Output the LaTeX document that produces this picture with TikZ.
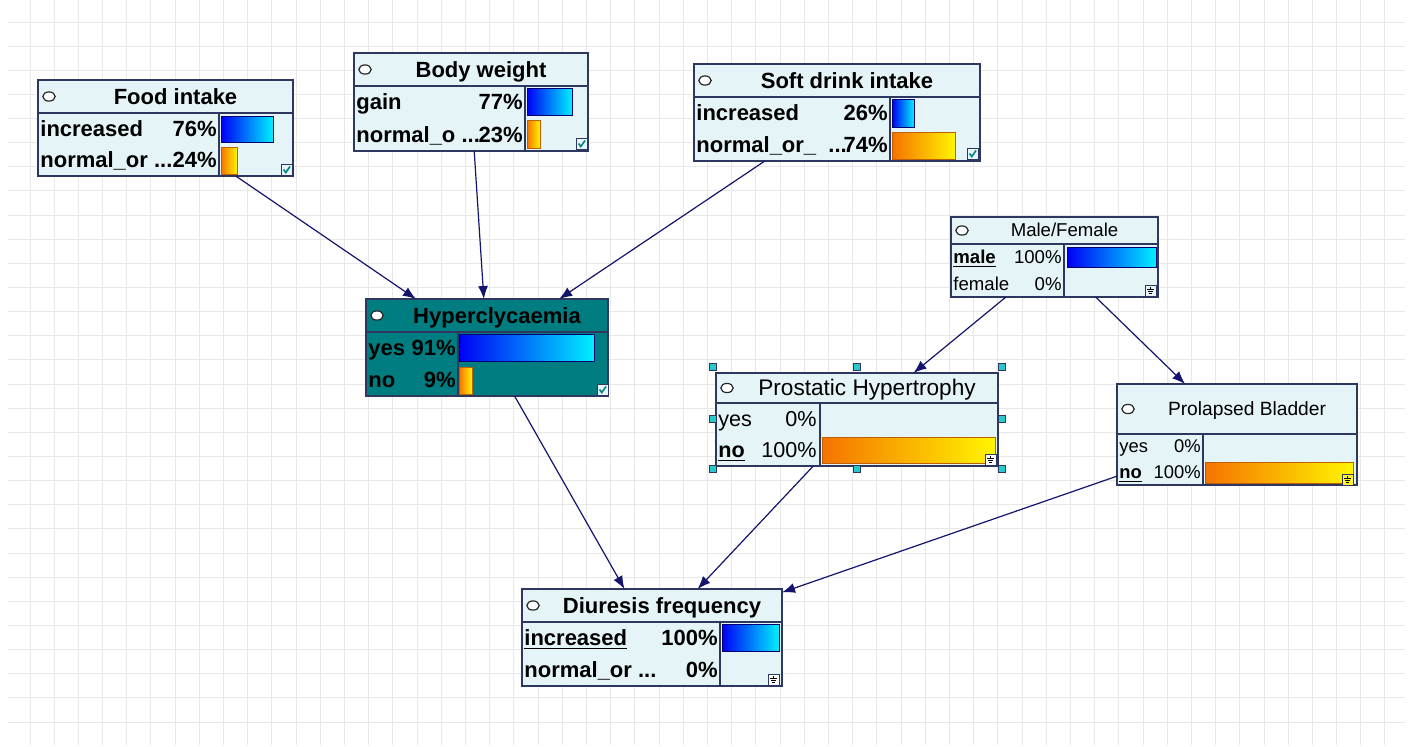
\documentclass[tikz,border=0pt]{standalone}
\usepackage{fontspec}
\setmainfont{Liberation Sans}
\usetikzlibrary{arrows.meta,calc}
\definecolor{bnborder}{RGB}{45,55,95}
\definecolor{bnfill}{RGB}{228,244,247}
\definecolor{bnteal}{RGB}{0,125,128}
\definecolor{bnarrow}{RGB}{20,20,110}
\definecolor{bngrid}{RGB}{232,232,232}
\definecolor{bnblueA}{RGB}{0,0,245}
\definecolor{bnblueB}{RGB}{0,240,255}
\definecolor{bnorA}{RGB}{245,115,0}
\definecolor{bnorB}{RGB}{255,245,0}
\definecolor{bnhandle}{RGB}{40,200,205}
\definecolor{bncheckc}{RGB}{0,130,130}
\newcommand\fB{\fontsize{11}{13}\selectfont\bfseries}
\newcommand\fM{\fontsize{9.3}{11}\selectfont}
\newcommand\fPt{\fontsize{11.3}{13}\selectfont}
\newcommand\fPr{\fontsize{10.8}{13}\selectfont}
\newcommand\fLt{\fontsize{9.6}{11}\selectfont}
\newcommand\fLr{\fontsize{9.2}{11}\selectfont}
\tikzset{
  bnbox/.style={draw=bnborder,line width=0.75pt,fill=bnfill,rectangle,inner sep=0pt,outer sep=0pt},
  bnline/.style={draw=bnborder,line width=0.75pt},
  bnoval/.style={draw=black!85,fill=white,line width=0.6pt},
  edge/.style={draw=bnarrow,line width=0.6pt,-{Latex[length=6.5pt,width=5pt]}},
  gridline/.style={draw=bngrid,line width=0.5pt},
  ttlB/.style={font=\fB,anchor=base,yshift=-3.75pt,inner sep=0pt},
  lblB/.style={font=\fB,anchor=base west,yshift=-3.75pt,inner sep=0pt},
  pctB/.style={font=\fB,anchor=base east,yshift=-3.75pt,inner sep=0pt},
  ttlM/.style={font=\fM,anchor=base,yshift=-3.2pt,inner sep=0pt},
  lblM/.style={font=\fM,anchor=base west,yshift=-3.2pt,inner sep=0pt},
  pctM/.style={font=\fM,anchor=base east,yshift=-3.2pt,inner sep=0pt},
  ttlP/.style={font=\fPt,anchor=base,yshift=-3.85pt,inner sep=0pt},
  lblP/.style={font=\fPr,anchor=base west,yshift=-3.67pt,inner sep=0pt},
  pctP/.style={font=\fPr,anchor=base east,yshift=-3.67pt,inner sep=0pt},
  ttlL/.style={font=\fLt,anchor=base,yshift=-3.25pt,inner sep=0pt},
  lblL/.style={font=\fLr,anchor=base west,yshift=-3.1pt,inner sep=0pt},
  pctL/.style={font=\fLr,anchor=base east,yshift=-3.1pt,inner sep=0pt},
  blubar/.style={left color=bnblueA,right color=bnblueB,draw=blue!45!black,line width=0.4pt},
  orabar/.style={left color=bnorA,right color=bnorB,draw=orange!75!black,line width=0.3pt},
  handle/.style={fill=bnhandle,draw=bnborder,line width=0.3pt},
  iconbox/.style={draw=bnborder,line width=0.4pt},
}
% #1 name, #2 L, #3 T, #4 R, #5 D (title bottom), #6 B, #7 X (inner divider), #8 extra style
\newcommand\bnframe[8]{%
  \node[bnbox,#8,minimum width={(#4-#2)*0.5pt},minimum height={(#6-#3)*0.5pt}] (#1) at ({(#2+#4)/2},{(#3+#6)/2}) {};
  \draw[bnline] (#2,#5) -- (#4,#5);
  \draw[bnline] (#7,#5) -- (#7,#6);
  \draw[bnoval] (#2+11,{(#3+#5)/2}) ellipse [x radius=3.1pt, y radius=2.3pt];
}
% #1 name, #2 L, #3 X, #4 y, #5 style suffix, #6 label, #7 pct
\newcommand\bnrow[7]{%
  \node[lbl#5] (#1) at (#2+2,#4) {#6};
  \node[pct#5] (#1p) at (#3-2,#4) {#7};
}
\newcommand\bncheck[2]{%
  \draw[iconbox,fill=bnfill] (#1,#2) rectangle (#1+11,#2+11);
  \draw[draw=bncheckc,line width=0.8pt] (#1+2.5,#2+5.5) -- (#1+4.8,#2+8.5) -- (#1+9,#2+2.5);
}
\newcommand\bnground[3]{%
  \draw[iconbox,fill=#3] (#1,#2) rectangle (#1+11,#2+11);
  \draw[line width=0.4pt] (#1+5.5,#2+2) -- (#1+5.5,#2+4.5)
    (#1+2,#2+4.5) -- (#1+9,#2+4.5) (#1+3,#2+6.5) -- (#1+8,#2+6.5) (#1+4,#2+8.5) -- (#1+7,#2+8.5);
}
\begin{document}
\begin{tikzpicture}[x=0.5pt,y=-0.5pt]
\useasboundingbox (0,0) rectangle (1412,746);
\fill[white] (0,0) rectangle (1412,746);
% grid
\foreach \k in {0,...,56} \draw[gridline] ({30+24.196*\k},0) -- ({30+24.196*\k},745);
\foreach \k in {0,...,29} \draw[gridline] (8,{22+24.14*\k}) -- (1405,{22+24.14*\k});

% Food intake
\bnframe{food}{38}{80}{293}{113}{176}{219}{}
\node[ttlB] (food-t) at (175.5,96.5) {Food intake};
\bnrow{food-a}{38}{219}{128.75}{B}{increased}{76\%}
\bnrow{food-b}{38}{219}{160.25}{B}{normal\_or ...}{24\%}
\draw[blubar] (221,116) rectangle (273,142);
\draw[orabar] (221,147) rectangle (237,174);
\bncheck{281}{164}

% Body weight
\bnframe{body}{354}{53}{588}{86}{151}{525}{}
\node[ttlB] (body-t) at (481,69.5) {Body weight};
\bnrow{body-a}{354}{525}{102.25}{B}{gain}{77\%}
\bnrow{body-b}{354}{525}{134.75}{B}{normal\_o ...}{23\%}
\draw[blubar] (527,88) rectangle (572,115);
\draw[orabar] (527,120) rectangle (540,148);
\bncheck{576}{138}

% Soft drink intake
\bnframe{soft}{694}{64}{980}{97}{161}{890}{}
\node[ttlB] (soft-t) at (847,80.5) {Soft drink intake};
\bnrow{soft-a}{694}{890}{113}{B}{increased}{26\%}
\bnrow{soft-b}{694}{890}{145}{B}{normal\_or\_ \ ...}{74\%}
\draw[blubar] (892,99) rectangle (914,127);
\draw[orabar] (892,132) rectangle (955,159);
\bncheck{967}{148}

% Hyperclycaemia
\bnframe{hyper}{366}{299}{608}{332}{396}{458}{fill=bnteal}
\node[ttlB] (hyper-t) at (497,315.5) {Hyperclycaemia};
\bnrow{hyper-a}{366}{458}{348}{B}{yes}{91\%}
\bnrow{hyper-b}{366}{458}{380}{B}{no}{9\%}
\draw[blubar] (459,334) rectangle (594,361);
\draw[orabar] (459,367) rectangle (472,394);
\bncheck{597}{384}

% Male/Female
\bnframe{male}{951}{217}{1158}{244}{297}{1064}{}
\node[ttlM] (male-t) at (1064.5,230.5) {Male/Female};
\bnrow{male-a}{951}{1064}{257.25}{M}{\textbf{\underline{male}}}{100\%}
\bnrow{male-b}{951}{1064}{283.75}{M}{female}{0\%}
\draw[blubar] (1067,247) rectangle (1156,267);
\bnground{1145}{285}{bnfill}

% Prostatic Hypertrophy
\bnframe{prost}{716}{373}{998}{403}{466}{820}{}
\node[ttlP] (prost-t) at (867,388) {Prostatic Hypertrophy};
\bnrow{prost-a}{716}{819}{418.75}{P}{yes}{0\%}
\bnrow{prost-b}{716}{819}{450.25}{P}{\textbf{\underline{no}}}{100\%}
\draw[orabar] (822,437) rectangle (995,463);
\bnground{985}{454}{white}
\foreach \hx/\hy in {713/367,857/367,1002/367,713/419,1002/419,713/469,857/469,1002/469}
  \draw[handle] (\hx-3.5,\hy-3.5) rectangle (\hx+3.5,\hy+3.5);

% Prolapsed Bladder
\bnframe{prol}{1117}{384}{1357}{434}{485}{1203}{}
\node[ttlL] (prol-t) at (1247,409) {Prolapsed Bladder};
\bnrow{prol-a}{1117}{1203}{446.75}{L}{yes}{0\%}
\bnrow{prol-b}{1117}{1203}{472.25}{L}{\textbf{\underline{no}}}{100\%}
\draw[orabar] (1205,462) rectangle (1353,483);
\bnground{1342}{474}{yellow!80!white}

% Diuresis frequency
\bnframe{diur}{522}{589}{782}{622}{686}{720}{}
\node[ttlB] (diur-t) at (662,605.5) {Diuresis frequency};
\bnrow{diur-a}{522}{720}{638}{B}{\underline{increased}}{100\%}
\bnrow{diur-b}{522}{720}{670}{B}{normal\_or ...}{0\%}
\draw[blubar] (722,624) rectangle (779,651);
\bnground{768}{674}{white}

% connectors
\draw[edge] (food) -- (hyper);
\draw[edge] (body) -- (hyper);
\draw[edge] (soft) -- (hyper);
\draw[edge] (male) -- (prost);
\draw[edge] (male) -- (prol);
\draw[edge] (hyper) -- (diur);
\draw[edge] (prost) -- (diur);
\draw[edge] (prol) -- (diur);
\end{tikzpicture}
\end{document}
